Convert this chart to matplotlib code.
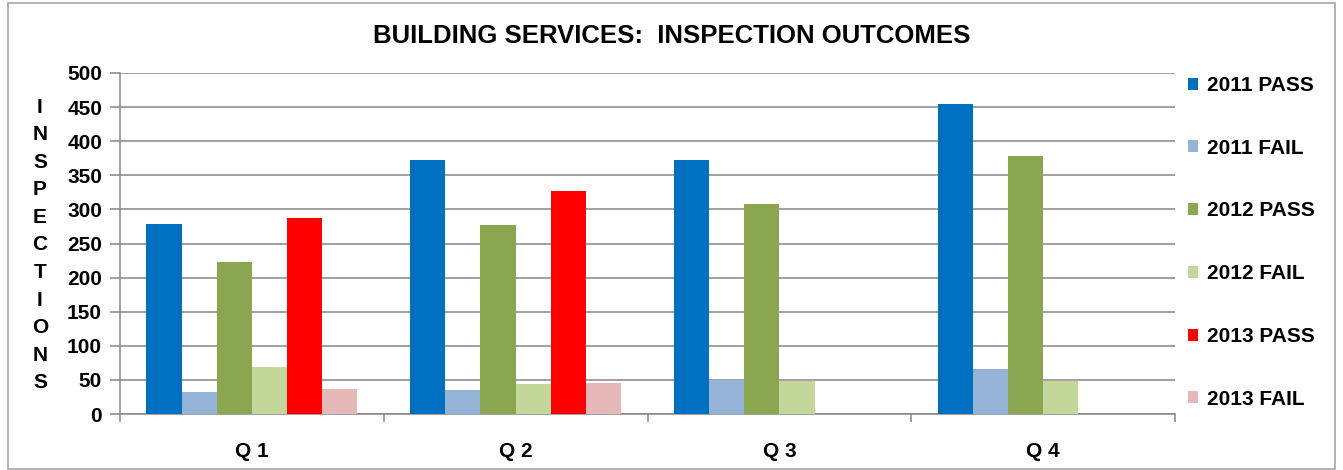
import numpy as np
import matplotlib
matplotlib.use("Agg")
import matplotlib.pyplot as plt
from matplotlib.patches import Rectangle

# Data
quarters = ["Q 1", "Q 2", "Q 3", "Q 4"]
pass_2011 = [279, 372, 373, 454]
fail_2011 = [33, 35, 50, 66]
pass_2012 = [223, 277, 308, 379]
fail_2012 = [69, 44, 49, 48]
pass_2013 = [287, 327, np.nan, np.nan]
fail_2013 = [37, 46, np.nan, np.nan]

series_names = ["2011 PASS", "2011 FAIL", "2012 PASS", "2012 FAIL", "2013 PASS", "2013 FAIL"]
series_values = [pass_2011, fail_2011, pass_2012, fail_2012, pass_2013, fail_2013]
colors = ["#0070C0", "#95B3D7", "#8BA650", "#C4D79B", "#FF0000", "#E6B9B8"]

plt.rcParams['font.family'] = ['Liberation Sans', 'DejaVu Sans']
plt.rcParams['font.weight'] = 'bold'

fig = plt.figure(figsize=(13.43, 4.70), dpi=100)
ax = fig.add_axes([0.0894, 0.1191, 0.7855, 0.7256])

x = np.arange(len(quarters))
width = 0.8 / len(series_names)
for i, (name, vals, c) in enumerate(zip(series_names, series_values, colors)):
    offset = (i - (len(series_names) - 1) / 2) * width
    ax.bar(x + offset, vals, width, color=c, label=name, zorder=3)

ax.set_xlim(-0.5, len(quarters) - 0.5)
ax.set_ylim(0, 500)
ax.set_yticks(np.arange(0, 501, 50))
ax.yaxis.grid(True, color="#868686", linewidth=1.1, zorder=0)
ax.set_axisbelow(True)

ax.set_xticks(x)
ax.set_xticklabels(quarters, fontsize=15, fontweight='bold')
ax.set_xticks(np.arange(-0.5, len(quarters)), minor=True)
ax.tick_params(axis='x', which='major', length=0, pad=20)
ax.tick_params(axis='x', which='minor', length=6, color="#868686", width=1.1)
ax.tick_params(axis='y', length=7, color="#868686", width=1.1, labelsize=15, pad=6)
for lbl in ax.get_yticklabels():
    lbl.set_fontweight('bold')

for s in ["top", "right"]:
    ax.spines[s].set_visible(False)
for s in ["left", "bottom"]:
    ax.spines[s].set_color("#868686")
    ax.spines[s].set_linewidth(1.1)

# stacked vertical axis label
fig.text(40 / 1343, 1 - 245 / 470, "\n".join("INSPECTIONS"), ha='center', va='center',
         fontsize=15, fontweight='bold', linespacing=1.57)

fig.text(0.5, 1 - 36 / 470, "BUILDING SERVICES:  INSPECTION OUTCOMES", ha='center', va='center',
         fontsize=18.5, fontweight='bold')

ax.legend(loc='upper left', bbox_to_anchor=(1188 / 1343, 1 - 76 / 470),
          bbox_transform=fig.transFigure, frameon=False, fontsize=15,
          handlelength=0.5, handleheight=0.5, handletextpad=0.4,
          labelspacing=2.1, borderaxespad=0, borderpad=0)
for t in ax.get_legend().get_texts():
    t.set_fontweight('bold')

fig.patches.append(Rectangle((8 / 1343, 0.003), 1 - 16 / 1343, 0.99, transform=fig.transFigure,
                             fill=False, edgecolor="#A6A6A6", linewidth=1.2))

fig.savefig("out.png", dpi=100)
